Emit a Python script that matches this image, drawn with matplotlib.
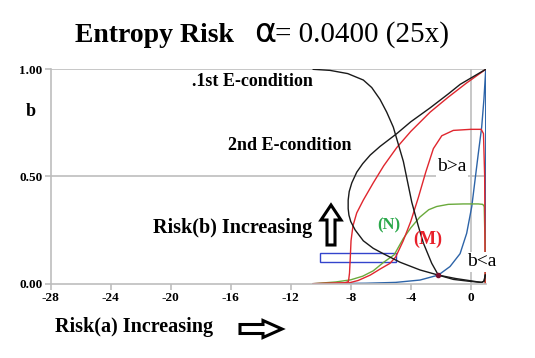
import matplotlib
matplotlib.use('Agg')
from matplotlib import pyplot as plt
from matplotlib.patches import Rectangle, FancyArrow

plt.rcParams['font.family'] = ['Liberation Serif', 'DejaVu Serif']

# Data
# 1st E-condition (black, falling)
e1_a = [-10.5, -9.38, -8.2, -7.16, -6.6, -6.05, -5.6, -5.16, -4.49, -3.93, -3.5,
        -3.16, -2.6, -2.16, -1.16, -0.2, 0.4, 0.73, 0.9, 0.97]
e1_b = [1.0, 0.995, 0.98, 0.95, 0.915, 0.86, 0.80, 0.73, 0.57, 0.38, 0.27,
        0.19, 0.095, 0.04, 0.02, 0.012, 0.008, 0.006, 0.012, 0.04]

# 2nd E-condition (black, loop)
e2_a = [1.0, -0.7, -1.5, -2.71, -4.0, -4.93, -6.05, -6.7, -7.2, -7.6, -7.93, -8.1,
        -8.17, -8.17, -8.12, -8.0, -7.7, -7.16, -6.5, -5.83, -4.71, -3.38, -2.16,
        -1.0, -0.05, 0.5, 0.73, 0.88, 0.97]
e2_b = [1.0, 0.93, 0.885, 0.82, 0.755, 0.70, 0.64, 0.60, 0.56, 0.52, 0.47, 0.43,
        0.39, 0.35, 0.32, 0.29, 0.25, 0.2, 0.165, 0.14, 0.10, 0.064, 0.04,
        0.024, 0.014, 0.008, 0.006, 0.012, 0.04]

# red curve rising to (1, 1)
r1_a = [-10.5, -9, -8.4, -8.15, -8.08, -8.03, -7.98, -7.85, -7.6, -7.16, -6.5,
        -5.8, -4.93, -4.0, -2.71, -1.5, -0.3, 1.0]
r1_b = [0, 0.002, 0.004, 0.01, 0.05, 0.12, 0.2, 0.27, 0.33, 0.39, 0.47,
        0.55, 0.635, 0.71, 0.80, 0.87, 0.935, 1.0]

# (M) red curve
m_a = [-10.5, -8.1, -7.5, -6.7, -6.0, -5.38, -5.0, -4.5, -4.0, -3.5, -3.0, -2.49,
       -1.93, -1.16, 0.0, 0.7, 0.85, 0.93, 0.96]
m_b = [0, 0.004, 0.015, 0.04, 0.07, 0.095, 0.125, 0.2, 0.29, 0.40, 0.52, 0.63,
       0.69, 0.715, 0.72, 0.72, 0.70, 0.5, 0.0]

# (N) green curve
n_a = [-10.5, -9, -8, -7.2, -6.5, -5.8, -5.1, -4.5, -4.0, -3.4, -2.8, -2.27,
       -1.5, -0.5, 0.5, 0.8, 0.9, 0.95, 0.97]
n_b = [0, 0.008, 0.018, 0.035, 0.06, 0.1, 0.135, 0.21, 0.26, 0.31, 0.345, 0.36,
       0.37, 0.372, 0.372, 0.37, 0.36, 0.2, 0.0]

# blue curve
bl_a = [-10.5, -7, -5, -3.38, -2.16, -1.38, -0.71, -0.27, 0.07, 0.29, 0.51, 0.73,
        0.88, 1.0, 1.0]
bl_b = [0, 0.002, 0.006, 0.017, 0.04, 0.08, 0.14, 0.235, 0.36, 0.485, 0.61, 0.73,
        0.86, 1.0, 0.0]

cross_a = [-2.2]
cross_b = [0.042]

x_ticks = [-28, -24, -20, -16, -12, -8, -4, 0]
y_ticks = [0.0, 0.5, 1.0]

fig = plt.figure(figsize=(5.35, 3.58), dpi=100)
ax = fig.add_axes([0.0948, 0.2076, 0.8131, 0.5988])

grid_c = '#bdbdbd'
ax.axhline(0.5, color=grid_c, lw=1.2, zorder=0)
ax.axhline(1.0, color=grid_c, lw=1.2, zorder=0)
ax.axvline(0.0, color=grid_c, lw=1.2, zorder=0)

ax.plot(bl_a, bl_b, color='#2d64a8', lw=1.0)
ax.plot(n_a, n_b, color='#6aaa3c', lw=1.0)
ax.plot(m_a, m_b, color='#e0262e', lw=1.0)
ax.plot(r1_a, r1_b, color='#e0262e', lw=1.0)
ax.plot(e1_a, e1_b, color='#1a1a1a', lw=1.0)
ax.plot(e2_a, e2_b, color='#1a1a1a', lw=1.0)
ax.plot(cross_a, cross_b, 'o', color='#7a1030', ms=3)

ax.add_patch(Rectangle((-10.05, 0.1), 5.05, 0.042, fill=False,
                       edgecolor='#3344cc', lw=1.0))

ax.set_xlim(-28, 1)
ax.set_ylim(0, 1)
ax.set_xticks(x_ticks)
ax.set_xticklabels([str(v) for v in x_ticks])
ax.set_yticks(y_ticks)
ax.set_yticklabels([f'{v:.2f}' for v in y_ticks])
for s in ['top', 'right']:
    ax.spines[s].set_visible(False)
for s in ['left', 'bottom']:
    ax.spines[s].set_color(grid_c)
    ax.spines[s].set_linewidth(1.2)
ax.tick_params(colors=grid_c, length=4, width=1.2, labelcolor='black',
               labelsize=9.5, pad=2)
for lab in ax.get_xticklabels() + ax.get_yticklabels():
    lab.set_fontweight('bold')

# Texts (positions in pixels of the 535x358 figure)
W, H = 535, 358


def ftext(px, py, s, **kw):
    fig.text(px / W, 1 - py / H, s, **kw)


ftext(75, 42, 'Entropy Risk', fontsize=20, fontweight='bold', va='baseline')
ftext(254, 42, 'α', fontsize=24, va='baseline', family=['DejaVu Sans'])
ftext(275, 42, '= 0.0400 (25x)', fontsize=21, va='baseline')
ftext(31, 112, 'b', fontsize=13, fontweight='bold', ha='center', va='center')
ftext(192, 82, '.1st E-condition', fontsize=13, fontweight='bold', va='center')
ftext(228, 145, '2nd E-condition', fontsize=13, fontweight='bold', va='center')
ftext(153, 228, 'Risk(b) Increasing', fontsize=14.5, fontweight='bold', va='center')
ftext(55, 327, 'Risk(a) Increasing', fontsize=14.5, fontweight='bold', va='center')
ftext(377, 225, '(N)', fontsize=12, fontweight='bold', color='#2aa84a', va='center')
ftext(413, 239, '(M)', fontsize=13, fontweight='bold', color='#e8202a', va='center')
ftext(437, 167, 'b>a', fontsize=14, va='center',
      bbox=dict(facecolor='white', edgecolor='none', pad=1))
ftext(467, 262, 'b<a', fontsize=14, va='center',
      bbox=dict(facecolor='white', edgecolor='none', pad=1))

# hollow arrows, in inches from bottom-left
up = FancyArrow(331 / 100, (H - 245) / 100, 0, 0.40, width=0.08, head_width=0.20,
                head_length=0.15, length_includes_head=True, facecolor='white',
                edgecolor='black', lw=2.2, transform=fig.dpi_scale_trans)
right = FancyArrow(240 / 100, (H - 329) / 100, 0.42, 0, width=0.09, head_width=0.17,
                   head_length=0.19, length_includes_head=True, facecolor='white',
                   edgecolor='black', lw=2.2, transform=fig.dpi_scale_trans)
fig.add_artist(up)
fig.add_artist(right)

fig.savefig('out.png', dpi=100)
